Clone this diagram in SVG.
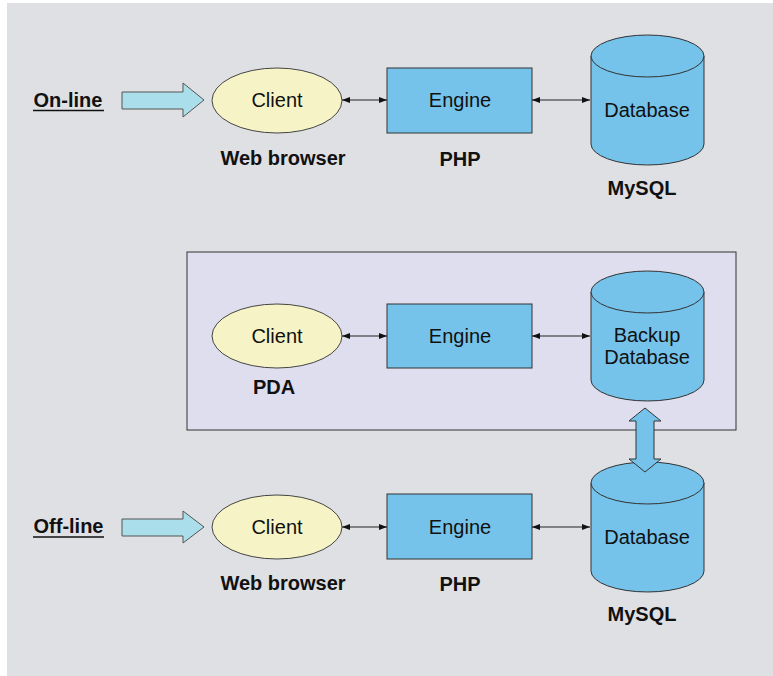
<svg xmlns="http://www.w3.org/2000/svg" width="773" height="676" viewBox="0 0 773 676">
<style>
.lbl{font-family:"Liberation Sans",Arial,sans-serif;font-size:20px;fill:#111;text-anchor:middle}
.bold{font-weight:bold}
.client{fill:#f6f4c6;stroke:#444;stroke-width:1}
.blue{fill:#75c3ea;stroke:#333;stroke-width:1}
.big{fill:#aadeea;stroke:#555;stroke-width:1}
.conn{stroke:#222;stroke-width:1;fill:none;marker-start:url(#ah);marker-end:url(#ah)}
</style>
<defs>
<marker id="ah" viewBox="0 0 8 6" refX="8" refY="3" markerWidth="8" markerHeight="6" markerUnits="userSpaceOnUse" orient="auto-start-reverse">
<path d="M0,0 L8,3 L0,6 Z" fill="#111"/>
</marker>
</defs>
<rect x="0" y="0" width="773" height="676" fill="#ffffff"/>
<rect x="7" y="3" width="766" height="673" fill="#dfe0e3"/>

<g id="offline-box">
<rect x="187" y="252" width="549" height="178" fill="#dfdeee" stroke="#333" stroke-width="1"/>
</g>

<g id="online-label">
<text class="lbl bold" x="68" y="107">On-line</text>
<line x1="33" y1="110.5" x2="104" y2="110.5" stroke="#111" stroke-width="1.5"/>
</g>
<g id="online-arrow">
<path class="big" d="M122,92 L183,92 L183,83 L204,100 L183,117 L183,109 L122,109 Z"/>
</g>
<g id="client1">
<ellipse class="client" cx="277" cy="100.5" rx="65" ry="32.5"/>
<text class="lbl" x="277" y="107">Client</text>
<text class="lbl bold" x="283" y="165">Web browser</text>
</g>
<g id="engine1">
<rect class="blue" x="387" y="68" width="145" height="65"/>
<text class="lbl" x="460" y="107">Engine</text>
<text class="lbl bold" x="460" y="166">PHP</text>
</g>
<g id="db1">
<path class="blue" d="M591,56 L591,144 A56.5,21 0 0 0 704,144 L704,56 A56.5,21 0 0 0 591,56 Z"/>
<path class="blue" d="M591,56 A56.5,21 0 0 0 704,56"/>
<text class="lbl" x="647" y="117">Database</text>
<text class="lbl bold" x="642" y="195">MySQL</text>
</g>

<g id="client2">
<ellipse class="client" cx="277" cy="336" rx="65" ry="32"/>
<text class="lbl" x="277" y="343">Client</text>
<text class="lbl bold" x="274" y="394">PDA</text>
</g>
<g id="engine2">
<rect class="blue" x="387" y="304" width="145" height="64"/>
<text class="lbl" x="460" y="343">Engine</text>
</g>
<g id="db2">
<path class="blue" d="M591,292 L591,380 A56.5,21 0 0 0 704,380 L704,292 A56.5,21 0 0 0 591,292 Z"/>
<path class="blue" d="M591,292 A56.5,21 0 0 0 704,292"/>
<text class="lbl" x="647" y="342">Backup</text>
<text class="lbl" x="647" y="364">Database</text>
</g>

<g id="offline-label">
<text class="lbl bold" x="68.5" y="533">Off-line</text>
<line x1="33" y1="537" x2="104" y2="537" stroke="#111" stroke-width="1.5"/>
</g>
<g id="offline-arrow">
<path class="big" d="M122,519 L183,519 L183,511 L204,527 L183,543 L183,536 L122,536 Z"/>
</g>
<g id="client3">
<ellipse class="client" cx="277" cy="527" rx="65" ry="32"/>
<text class="lbl" x="277" y="534">Client</text>
<text class="lbl bold" x="283" y="590">Web browser</text>
</g>
<g id="engine3">
<rect class="blue" x="387" y="494" width="145" height="65"/>
<text class="lbl" x="460" y="534">Engine</text>
<text class="lbl bold" x="460" y="591">PHP</text>
</g>
<g id="db3">
<path class="blue" d="M591,483 L591,571 A56.5,21 0 0 0 704,571 L704,483 A56.5,21 0 0 0 591,483 Z"/>
<path class="blue" d="M591,483 A56.5,21 0 0 0 704,483"/>
<text class="lbl" x="647" y="544">Database</text>
<text class="lbl bold" x="642" y="621">MySQL</text>
</g>

<g id="connectors">
<line class="conn" x1="342" y1="100" x2="387" y2="100"/>
<line class="conn" x1="532" y1="100" x2="590" y2="100"/>
<line class="conn" x1="342" y1="336" x2="387" y2="336"/>
<line class="conn" x1="532" y1="336" x2="590" y2="336"/>
<line class="conn" x1="342" y1="527" x2="387" y2="527"/>
<line class="conn" x1="532" y1="527" x2="590" y2="527"/>
<path class="blue" d="M645,408 L661,421 L654,421 L654,459 L661,459 L645,472 L629,459 L636,459 L636,421 L629,421 Z"/>
</g>
</svg>
